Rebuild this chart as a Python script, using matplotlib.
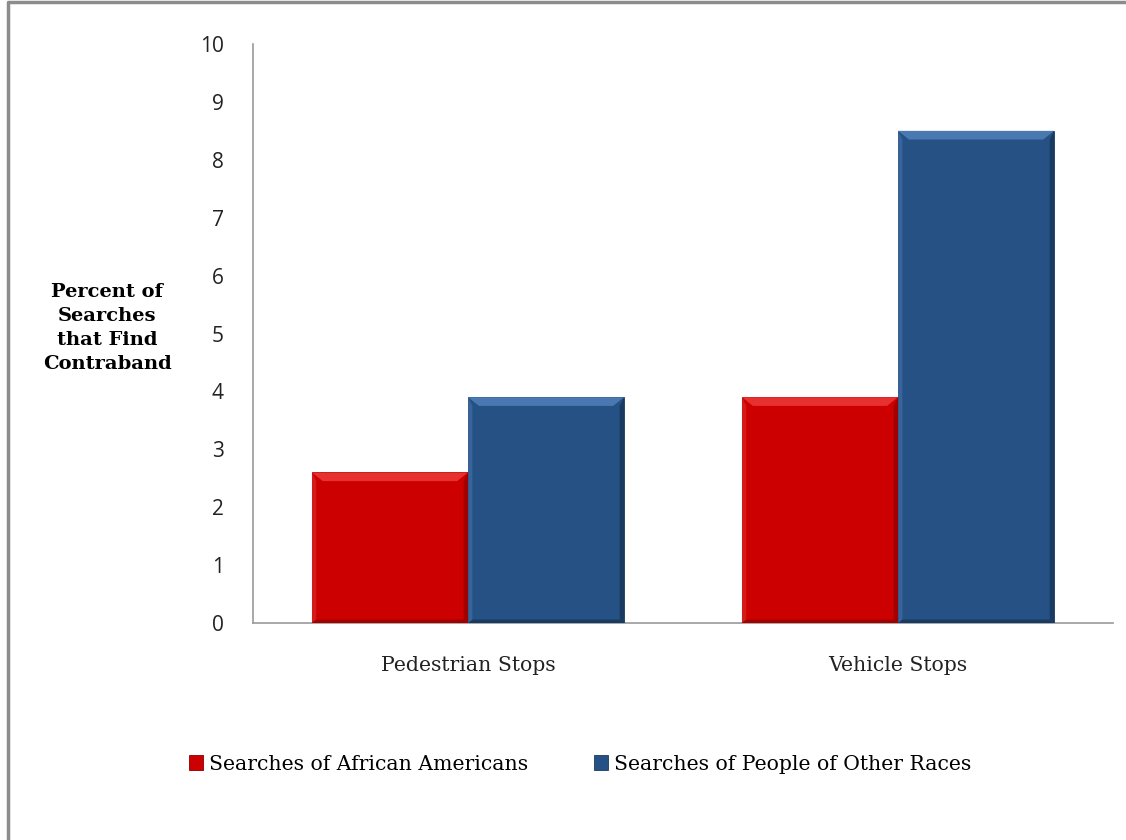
import matplotlib
matplotlib.use("Agg")
import matplotlib.pyplot as plt
from matplotlib.patches import Polygon
from matplotlib.lines import Line2D
import numpy as np

categories = ["Pedestrian Stops", "Vehicle Stops"]
series_names = ["Searches of African Americans", "Searches of People of Other Races"]
african_american = [2.6, 3.9]
other_races = [3.9, 8.5]
yticks = [0, 1, 2, 3, 4, 5, 6, 7, 8, 9, 10]

red = "#CC0000"
blue = "#255185"

fig = plt.figure(figsize=(11.26, 8.4), dpi=100)
ax = fig.add_axes([253/1126, (840-623)/840, (1113-253)/1126, (623-44)/840])

x = np.arange(len(categories))
w = 0.363
b1 = ax.bar(x - w/2, african_american, w, color=red, edgecolor="#8a0000", linewidth=0.6, zorder=3)
b2 = ax.bar(x + w/2, other_races, w, color=blue, edgecolor="#183a60", linewidth=0.6, zorder=3)

# bevel decoration derived from bar geometry
def bevel(bars, light, dark):
    for r in bars:
        x0, y0, bw, bh = r.get_x(), r.get_y(), r.get_width(), r.get_height()
        dx = bw * 0.07
        dy = 0.15
        ax.add_patch(Polygon([[x0, y0+bh], [x0+bw, y0+bh], [x0+bw-dx, y0+bh-dy], [x0+dx, y0+bh-dy]],
                             closed=True, color=light, lw=0, zorder=4))
        ax.add_patch(Polygon([[x0+bw, y0], [x0+bw, y0+bh], [x0+bw-dx*0.4, y0+bh-dy], [x0+bw-dx*0.4, y0+dy*0.4]],
                             closed=True, color=dark, lw=0, zorder=4))
        ax.add_patch(Polygon([[x0, y0], [x0+bw, y0], [x0+bw-dx*0.4, y0+dy*0.4], [x0+dx*0.4, y0+dy*0.4]],
                             closed=True, color=dark, lw=0, zorder=4))
        ax.add_patch(Polygon([[x0, y0], [x0, y0+bh], [x0+dx*0.4, y0+bh-dy], [x0+dx*0.4, y0+dy*0.4]],
                             closed=True, color=light, alpha=0.5, lw=0, zorder=4))

bevel(b1, "#e83030", "#a00000")
bevel(b2, "#4a78b0", "#1a3a62")

ax.set_xlim(-0.5, 1.5)
ax.set_ylim(0, 10)
ax.set_yticks(yticks)
ax.set_yticklabels([str(t) for t in yticks], fontfamily="Open Sans", fontsize=15, color="#222222")
ax.set_xticks(x)
ax.set_xticklabels(categories, fontfamily="DejaVu Serif", fontsize=14.7, color="#222222")
ax.tick_params(axis="y", length=0, pad=21)
ax.tick_params(axis="x", length=0, pad=24)
for s in ["top", "right"]:
    ax.spines[s].set_visible(False)
for s in ["left", "bottom"]:
    ax.spines[s].set_color("#999999")
    ax.spines[s].set_linewidth(1.2)

fig.text(107/1126, 1 - 328/840, "Percent of\nSearches\nthat Find\nContraband", ha="center", va="center",
         fontfamily="DejaVu Serif", fontweight="bold", fontsize=14, linespacing=1.45)

leg = fig.legend([b1, b2], series_names, loc="center", bbox_to_anchor=(580/1126, 1 - 764/840),
                 ncol=2, frameon=False, prop={"family": "DejaVu Serif", "size": 14.7},
                 handlelength=0.7, handleheight=0.7, handletextpad=0.3, columnspacing=3.2)

fig.add_artist(Line2D([8/1126, 8/1126, 1.0], [0.0, 1 - 2/840, 1 - 2/840], transform=fig.transFigure,
                      color="#8c8c8c", linewidth=2.5))

fig.savefig("out.png", dpi=100)
